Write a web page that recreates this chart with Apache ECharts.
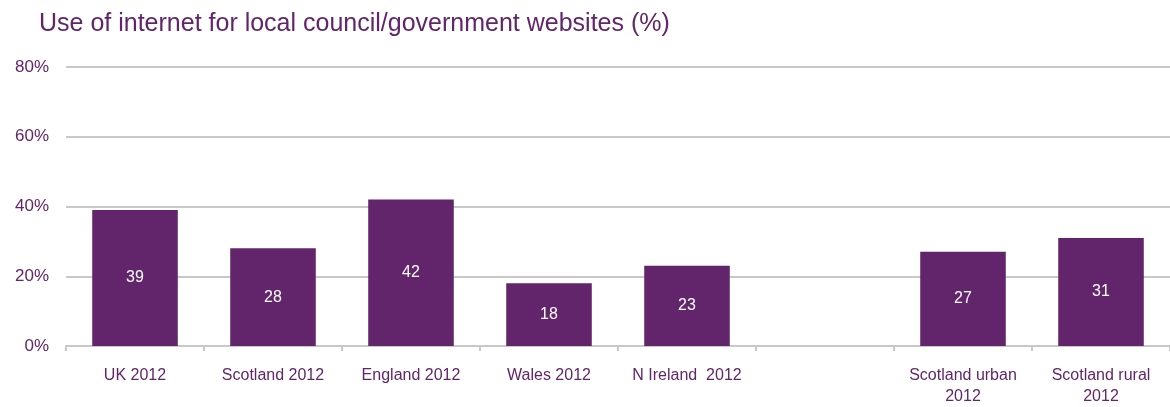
<!DOCTYPE html>
<html><head><meta charset="utf-8">
<script src="https://cdn.jsdelivr.net/npm/echarts@6/dist/echarts.min.js"></script>
<style>html,body{margin:0;padding:0;background:#fff}#c{width:1170px;height:407px}</style>
</head><body><div id="c"></div>
<script>
const titleText = 'Use of internet for local council/government websites (%)';
const categories = ['UK 2012', 'Scotland 2012', 'England 2012', 'Wales 2012', 'N Ireland  2012', '', 'Scotland urban\n2012', 'Scotland rural\n2012'];
const values = [39, 28, 42, 18, 23, null, 27, 31];
const yTicks = [0, 20, 40, 60, 80];

const purple = '#62246A';
const chart = echarts.init(document.getElementById('c'));
chart.setOption({
  animation: false,
  title: {
    text: titleText, left: 34, top: 7,
    textStyle: { fontFamily: 'Liberation Sans', fontWeight: 'normal', fontSize: 25, color: '#62246A' }
  },
  grid: { left: 66, right: -5, top: 67, bottom: 59 },
  xAxis: {
    type: 'category', data: categories,
    axisLine: { lineStyle: { color: '#c8c8c8', width: 2 } },
    axisTick: { show: true, length: 5, lineStyle: { color: '#c8c8c8', width: 2 } },
    axisLabel: { color: '#62246A', fontFamily: 'Liberation Sans', fontSize: 16, margin: 19, lineHeight: 21, interval: 0 }
  },
  yAxis: {
    type: 'value', min: yTicks[0], max: yTicks[yTicks.length - 1], interval: 20,
    axisLine: { show: false }, axisTick: { show: false },
    axisLabel: { formatter: '{value}%', color: '#62246A', fontFamily: 'Liberation Sans', fontSize: 17, margin: 17 },
    splitLine: { lineStyle: { color: '#c8c8c8', width: 2 } }
  },
  series: [{
    type: 'bar', data: values, barCategoryGap: '38%',
    itemStyle: { color: purple },
    label: { show: true, position: 'inside', color: '#fff', fontFamily: 'Liberation Sans', fontSize: 16 }
  }]
});
</script></body></html>
